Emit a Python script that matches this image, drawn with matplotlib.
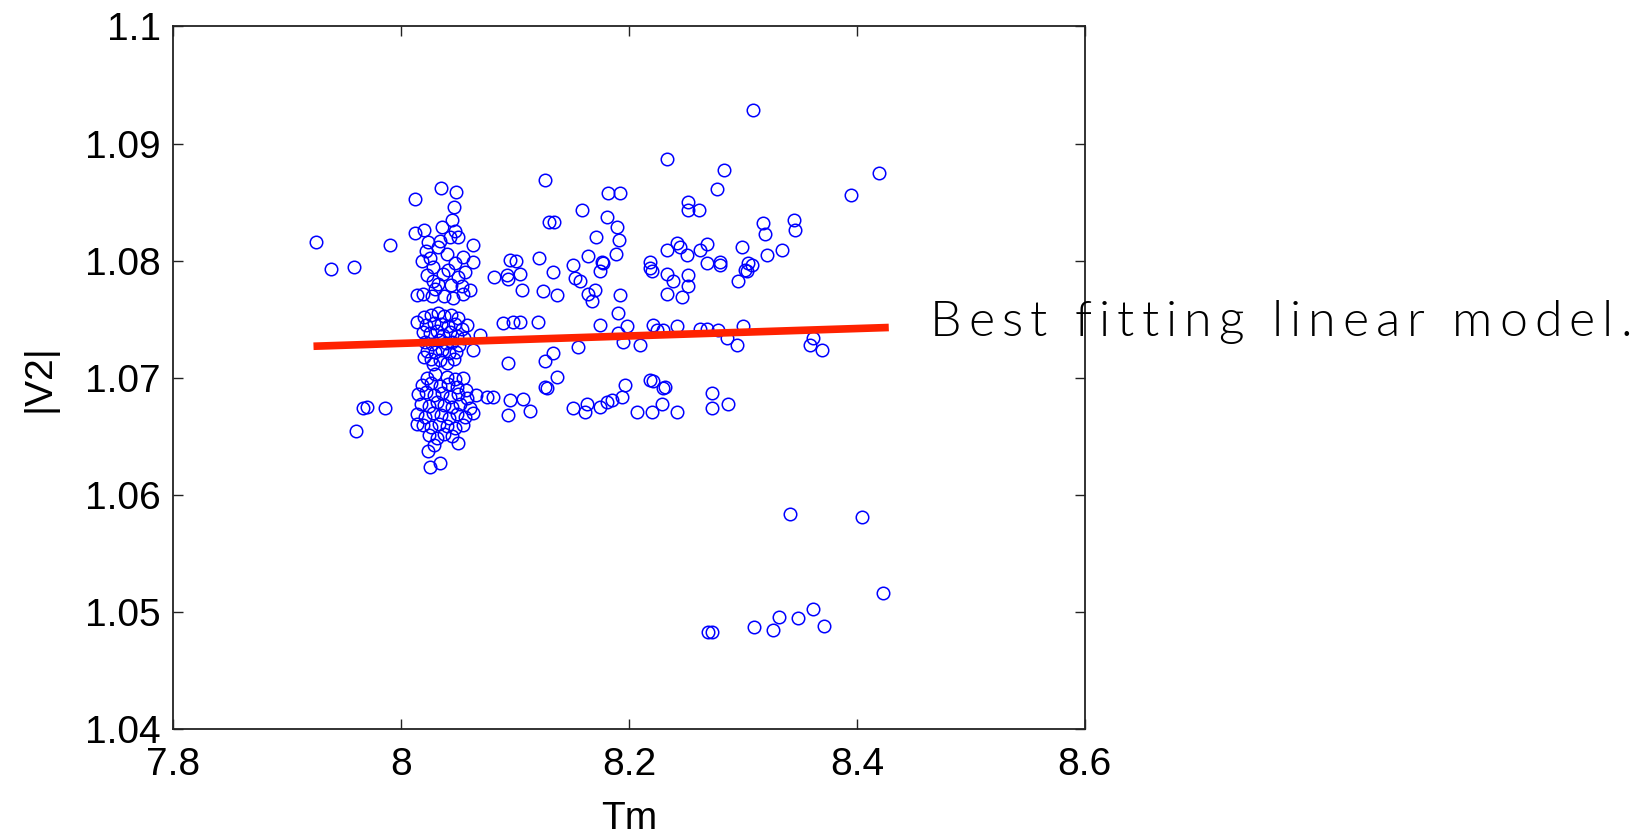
"""Scatter of |V2| against Tm with the best fitting linear model."""

import matplotlib

matplotlib.use("Agg")

import matplotlib.pyplot as plt
import numpy as np
from matplotlib.font_manager import FontProperties

# sparse points left of the main cluster
tm_left = [7.925, 7.938, 7.9585, 7.990, 7.9697, 7.9665, 7.9858, 7.960]
v2_left = [1.0816, 1.0793, 1.0795, 1.0813, 1.0675, 1.0674, 1.0674, 1.0655]

# dense cluster around Tm = 8.04, upper group
tm_upper = [8.0124, 8.035, 8.048, 8.0463, 8.0449, 8.036, 8.012, 8.020, 8.0238, 8.0326,
            8.047, 8.050, 8.0633, 8.0545, 8.0633, 8.043, 8.028, 8.037, 8.0224, 8.0136,
            8.019, 8.027, 8.0457, 8.0545, 8.0604, 8.032, 8.041, 8.050, 8.025, 8.040,
            8.030, 8.044, 8.018, 8.056, 8.034, 8.028, 8.047, 8.038, 8.022, 8.053]
v2_upper = [1.0853, 1.0862, 1.0859, 1.0846, 1.0835, 1.0829, 1.0824, 1.0826, 1.0816, 1.0812,
            1.0825, 1.0820, 1.0813, 1.0803, 1.0799, 1.0820, 1.0795, 1.0789, 1.0788, 1.0771,
            1.0772, 1.0770, 1.0768, 1.0772, 1.0775, 1.0780, 1.0792, 1.0786, 1.0802, 1.0806,
            1.0776, 1.0779, 1.0800, 1.0790, 1.0817, 1.0783, 1.0798, 1.0770, 1.0808, 1.0778]

# dense cluster, middle group
tm_middle = [8.0136, 8.0575, 8.0692, 8.0633, 8.0282,
             8.020, 8.026, 8.032, 8.038, 8.044, 8.050,
             8.022, 8.029, 8.035, 8.041, 8.047, 8.053,
             8.019, 8.025, 8.031, 8.037, 8.043, 8.049, 8.055,
             8.021, 8.027, 8.033, 8.039, 8.045, 8.051,
             8.023, 8.030, 8.036, 8.042, 8.048,
             8.026, 8.034, 8.040, 8.046, 8.020]
v2_middle = [1.0748, 1.0745, 1.0737, 1.0724, 1.0712,
             1.0752, 1.0754, 1.0755, 1.0753, 1.0754, 1.0751,
             1.0745, 1.0747, 1.0746, 1.0744, 1.0746, 1.0742,
             1.0739, 1.0738, 1.0740, 1.0737, 1.0739, 1.0736, 1.0734,
             1.0731, 1.0729, 1.0732, 1.0730, 1.0731, 1.0728,
             1.0723, 1.0722, 1.0724, 1.0721, 1.0722,
             1.0716, 1.0715, 1.0713, 1.0716, 1.0718]

# dense cluster, lower group
tm_lower = [8.0136, 8.0238, 8.0253, 8.034, 8.0501, 8.0545, 8.0224, 8.075, 8.0808,
            8.030, 8.040, 8.047,
            8.018, 8.026, 8.034, 8.041, 8.049, 8.057,
            8.015, 8.022, 8.029, 8.036, 8.043, 8.050, 8.058, 8.066,
            8.017, 8.024, 8.031, 8.038, 8.045, 8.052, 8.060,
            8.014, 8.021, 8.028, 8.035, 8.042, 8.049, 8.056, 8.063,
            8.019, 8.026, 8.033, 8.040, 8.047, 8.054,
            8.024, 8.031, 8.038, 8.045, 8.029]
v2_lower = [1.0661, 1.0638, 1.0624, 1.0627, 1.0644, 1.0700, 1.0700, 1.0684, 1.0684,
            1.0703, 1.0701, 1.0699,
            1.0694, 1.0696, 1.0693, 1.0695, 1.0692, 1.0690,
            1.0686, 1.0688, 1.0685, 1.0687, 1.0684, 1.0686, 1.0683, 1.0685,
            1.0678, 1.0676, 1.0679, 1.0677, 1.0675, 1.0678, 1.0674,
            1.0669, 1.0667, 1.0670, 1.0668, 1.0666, 1.0669, 1.0667, 1.0670,
            1.0660, 1.0658, 1.0661, 1.0659, 1.0657, 1.0660,
            1.0651, 1.0649, 1.0652, 1.0650, 1.0643]

# scattered points right of the cluster, upper band
tm_right_up = [8.0955, 8.1212, 8.1009, 8.0817, 8.1043, 8.1262, 8.130, 8.094, 8.0926, 8.1058,
               8.1247, 8.309, 8.233, 8.2834, 8.2775, 8.1818, 8.192, 8.1585, 8.1341, 8.1804,
               8.1892, 8.1915, 8.171, 8.252, 8.252, 8.2617, 8.3173, 8.3194, 8.3448, 8.3457,
               8.4197, 8.3949, 8.1637, 8.1886, 8.176, 8.1335, 8.151, 8.1745, 8.233, 8.2418,
               8.2447, 8.2506, 8.2682, 8.2624, 8.2799, 8.2682, 8.2989, 8.3209, 8.334, 8.3047,
               8.3018, 8.2184, 8.2184, 8.233, 8.1526, 8.157, 8.1774, 8.1365, 8.1642, 8.1672,
               8.1701, 8.192, 8.2199, 8.2389, 8.233, 8.2462, 8.252, 8.252, 8.2799, 8.2959,
               8.3033, 8.3077]
v2_right_up = [1.0801, 1.0802, 1.0800, 1.0786, 1.0789, 1.0869, 1.0833, 1.0784, 1.0788, 1.0775,
               1.0774, 1.0929, 1.0887, 1.0877, 1.0861, 1.0858, 1.0858, 1.0843, 1.0833, 1.0837,
               1.0829, 1.0818, 1.0820, 1.0850, 1.0843, 1.0843, 1.0832, 1.0823, 1.0835, 1.0826,
               1.0875, 1.0856, 1.0804, 1.0806, 1.0799, 1.0790, 1.0796, 1.0791, 1.0809, 1.0815,
               1.0812, 1.0805, 1.0814, 1.0809, 1.0799, 1.0798, 1.0812, 1.0805, 1.0809, 1.0798,
               1.0792, 1.0799, 1.0794, 1.0789, 1.0785, 1.0783, 1.0798, 1.0771, 1.0772, 1.0766,
               1.0775, 1.0771, 1.0791, 1.0783, 1.0772, 1.0769, 1.0778, 1.0788, 1.0796, 1.0783,
               1.0791, 1.0796]

# scattered points along the fitted line
tm_right_mid = [8.0896, 8.0984, 8.1043, 8.1204, 8.1906, 8.1745, 8.198, 8.195, 8.2096, 8.1906,
                8.2213, 8.2243, 8.2301, 8.2418, 8.2623, 8.2682, 8.2784, 8.2857, 8.2945, 8.3003,
                8.1555, 8.3589, 8.3691, 8.3618]
v2_right_mid = [1.0747, 1.0748, 1.0748, 1.0748, 1.0755, 1.0745, 1.0744, 1.0731, 1.0728, 1.0738,
                1.0745, 1.0741, 1.0741, 1.0744, 1.0742, 1.0742, 1.0741, 1.0734, 1.0728, 1.0744,
                1.0726, 1.0728, 1.0724, 1.0734]

# scattered points right of the cluster, lower band
tm_right_low = [8.094, 8.1262, 8.1262, 8.0955, 8.1072, 8.1131, 8.094, 8.1277, 8.1335, 8.1365,
                8.151, 8.1628, 8.1613, 8.1745, 8.1804, 8.1848, 8.1936, 8.1965, 8.2067, 8.2199,
                8.2287, 8.2301, 8.2184, 8.2418, 8.2726, 8.2726, 8.2872, 8.2316, 8.2213]
v2_right_low = [1.0713, 1.0714, 1.0692, 1.0681, 1.0682, 1.0672, 1.0668, 1.0691, 1.0721, 1.0701,
                1.0674, 1.0678, 1.0671, 1.0675, 1.0679, 1.0681, 1.0684, 1.0694, 1.0671, 1.0671,
                1.0678, 1.0691, 1.0698, 1.0671, 1.0687, 1.0674, 1.0678, 1.0692, 1.0697]

# low outliers
tm_tail = [8.3413, 8.4042, 8.4232, 8.2696, 8.2726, 8.3097, 8.3266, 8.3319, 8.3486, 8.3618, 8.3712]
v2_tail = [1.0584, 1.0581, 1.0516, 1.0483, 1.0483, 1.0487, 1.0485, 1.0496, 1.0495, 1.0503, 1.0488]

# fitted line end points
fit_tm = [7.923, 8.428]
fit_v2 = [1.0727, 1.0743]

x_ticks = [7.8, 8.0, 8.2, 8.4, 8.6]
x_tick_labels = ["7.8", "8", "8.2", "8.4", "8.6"]
y_ticks = [1.04, 1.05, 1.06, 1.07, 1.08, 1.09, 1.1]
y_tick_labels = ["1.04", "1.05", "1.06", "1.07", "1.08", "1.09", "1.1"]

note = "Best fitting linear model."

tm = np.concatenate([tm_left, tm_upper, tm_middle, tm_lower,
                     tm_right_up, tm_right_mid, tm_right_low, tm_tail])
v2 = np.concatenate([v2_left, v2_upper, v2_middle, v2_lower,
                     v2_right_up, v2_right_mid, v2_right_low, v2_tail])

plt.rcParams["font.family"] = ["Liberation Sans", "DejaVu Sans"]

fig = plt.figure(figsize=(16.48, 8.40), dpi=100)
ax = fig.add_axes([0.1052, 0.1317, 0.5530, 0.8369])

ax.plot(tm, v2, linestyle="none", marker="o", markersize=9, markerfacecolor="none",
        markeredgecolor="#0000ff", markeredgewidth=1.1)
ax.plot(fit_tm, fit_v2, color="#ff2200", linewidth=5.5, solid_capstyle="butt")

ax.set_xlim(7.8, 8.6)
ax.set_ylim(1.04, 1.1)
ax.set_xticks(x_ticks)
ax.set_xticklabels(x_tick_labels)
ax.set_yticks(y_ticks)
ax.set_yticklabels(y_tick_labels)
ax.tick_params(direction="in", length=7, width=1.0, top=True, right=True,
               labelsize=28, color="#222222")
ax.tick_params(axis="y", pad=9)
ax.tick_params(axis="x", pad=13)
for spine in ax.spines.values():
    spine.set_linewidth(1.3)
    spine.set_color("#222222")

ax.set_xlabel("Tm", fontsize=28, labelpad=13)
ax.set_ylabel("|V2|", fontsize=28, labelpad=20)

# annotation drawn glyph by glyph to get the wide letter spacing
note_font = FontProperties(family=["Lato", "DejaVu Sans"], weight=300, size=36)
renderer = fig.canvas.get_renderer()
bar_w = renderer.get_text_width_height_descent("|", note_font, ismath=False)[0]
x_px = 930.0
y_frac = 1 - 322 / 840
tracking = 7.0
for ch in note:
    fig.text(x_px / 1648, y_frac, ch, fontproperties=note_font, va="center", ha="left",
             color="#000000")
    adv = renderer.get_text_width_height_descent(ch + "|", note_font, ismath=False)[0] - bar_w
    x_px += adv + tracking

fig.savefig("out.png", dpi=100)
